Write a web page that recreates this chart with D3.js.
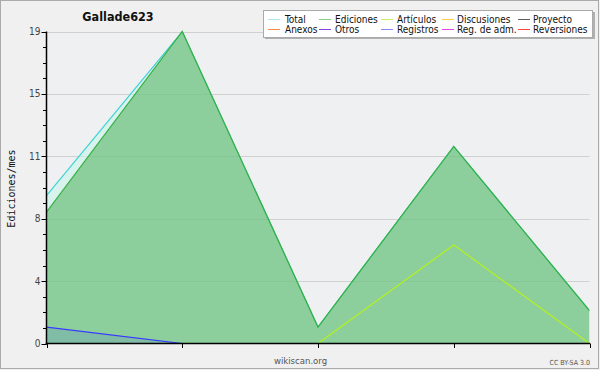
<!DOCTYPE html>
<html><head><meta charset="utf-8">
<script src="https://cdn.jsdelivr.net/npm/d3@7/dist/d3.min.js"></script>
<style>body{margin:0;background:#f0f0f0}svg{display:block}</style>
</head><body>
<svg id="c" width="600" height="370"></svg>
<script>
const months = ["M1","M2","M3","M4","M5"];
const total = [9, 19, 1, 12, 2];
const ediciones = [8, 19, 1, 12, 2];
const articulos = [0, 0, 0, 6, 0];
const registros = [1, 0, 0, 0, 0];
const yMajorTicks = [0, 3.8, 7.6, 11.4, 15.2, 19];
const yTickLabels = ["0", "4", "8", "11", "15", "19"];
const legendNames = ["Total","Ediciones","Artículos","Discusiones","Proyecto","Anexos","Otros","Registros","Reg. de adm.","Reversiones"];
const legendColors = ["#a8e8e8","#88cc88","#c8f060","#ffd040","#606060","#ff8844","#8844dd","#8888ff","#e044e0","#ff4444"];
const title = "Gallade623";
const yLabel = "Ediciones/mes";

const svg = d3.select("#c");
const L = 46.5, R = 589.5, T = 31.5, B = 343.5;
const x = d3.scalePoint().domain(months).range([L, R]);
const y = d3.scaleLinear().domain([0, 19]).range([B, T]);

// frame
svg.append("rect").attr("x",0.5).attr("y",0.5).attr("width",598).attr("height",368)
  .attr("fill","#f0f0f0").attr("stroke","#aaaaaa");
svg.append("rect").attr("x",L).attr("y",T).attr("width",R-L).attr("height",B-T).attr("fill","#eff0f2");

// grid
svg.append("g").selectAll("line").data(yMajorTicks.slice(1)).join("line")
  .attr("x1",L).attr("x2",R).attr("y1",d=>Math.round(y(d))+0.5).attr("y2",d=>Math.round(y(d))+0.5)
  .attr("stroke","#d0d0d0").attr("stroke-width",1);

svg.append("clipPath").attr("id","clip").append("rect").attr("x",L).attr("y",0).attr("width",R-L).attr("height",B);
const g = svg.append("g").attr("clip-path","url(#clip)");

function series(vals, lineColor, fill, fillOp, w){
  const data = vals.map((v,i)=>({m:months[i], v}));
  if (fill) g.append("path").datum(data)
    .attr("d", d3.area().x(d=>x(d.m)).y0(y(0)).y1(d=>y(d.v)))
    .attr("fill", fill).attr("fill-opacity", fillOp);
  g.append("path").datum(data)
    .attr("d", d3.line().x(d=>x(d.m)).y(d=>y(d.v)))
    .attr("fill","none").attr("stroke", lineColor).attr("stroke-width", w||1.2);
}
series(total, "#3fd4d4", "#c8f4ea", 0.6);
series(ediciones, "#38b044", "#3aa842", 0.47);
series(articulos, "#b4f020", null, 0);
series(registros, "#3838ff", "#2020ff", 0.1);

// axes
const axL = svg.append("g");
axL.append("line").attr("x1",L).attr("x2",L).attr("y1",T).attr("y2",B+1).attr("stroke","#000").attr("stroke-width",1.5);
const minor = d3.range(0, 20).map(i=>i*0.95).filter(v=>!yMajorTicks.some(t=>Math.abs(t-v)<1e-6));
axL.selectAll(".mn").data(minor).join("line")
  .attr("x1",L-3.5).attr("x2",L).attr("y1",d=>Math.round(y(d))+0.5).attr("y2",d=>Math.round(y(d))+0.5)
  .attr("stroke","#000");
axL.selectAll(".mj").data(yMajorTicks).join("line")
  .attr("x1",L-5).attr("x2",L).attr("y1",d=>Math.round(y(d))+0.5).attr("y2",d=>Math.round(y(d))+0.5)
  .attr("stroke","#000");
axL.selectAll("text").data(yMajorTicks).join("text")
  .attr("x",L-6).attr("y",d=>y(d)+3.5).attr("text-anchor","end")
  .attr("font-family","DejaVu Sans Condensed, DejaVu Sans").attr("font-stretch","condensed")
  .attr("font-size",10).attr("fill","#444").text((d,i)=>yTickLabels[i]);

const axB = svg.append("g");
axB.append("line").attr("x1",L-0.75).attr("x2",R+0.5).attr("y1",B).attr("y2",B).attr("stroke","#000").attr("stroke-width",1.5);
axB.selectAll("line.t").data(months).join("line").attr("class","t")
  .attr("x1",d=>Math.round(x(d))+0.5).attr("x2",d=>Math.round(x(d))+0.5).attr("y1",B).attr("y2",B+4.5)
  .attr("stroke","#000");

// title
svg.append("text").attr("x",118).attr("y",20.7).attr("text-anchor","middle")
  .attr("font-family","DejaVu Sans Condensed, DejaVu Sans").attr("font-stretch","condensed")
  .attr("font-weight","bold").attr("font-size",12.5).attr("fill","#111").text(title);

// y label
svg.append("text").attr("transform","translate(15,188.5) rotate(-90)").attr("text-anchor","middle")
  .attr("font-family","DejaVu Sans Mono").attr("font-size",10).attr("fill","#111").text(yLabel);

// legend
svg.append("rect").attr("x",265).attr("y",12).attr("width",330).attr("height",27).attr("fill","#b0b0b0");
svg.append("rect").attr("x",263.5).attr("y",10.5).attr("width",329).attr("height",27).attr("fill","#fff").attr("stroke","#aaaaaa");
const colX = [268, 319, 381, 442, 518];
const textX = [285, 335, 397, 457, 533];
const lg = svg.append("g").selectAll("g").data(legendNames).join("g");
lg.append("line")
  .attr("x1",(d,i)=>colX[i%5]).attr("x2",(d,i)=>colX[i%5]+12)
  .attr("y1",(d,i)=>i<5?19.5:29.5).attr("y2",(d,i)=>i<5?19.5:29.5)
  .attr("stroke",(d,i)=>legendColors[i]).attr("stroke-width",1);
lg.append("text").attr("x",(d,i)=>textX[i%5]).attr("y",(d,i)=>i<5?23.3:33.3)
  .attr("font-family","DejaVu Sans Condensed, DejaVu Sans").attr("font-stretch","condensed")
  .attr("font-size",10).attr("fill","#111").text(d=>d);

// footer
svg.append("text").attr("x",300.5).attr("y",364).attr("text-anchor","middle")
  .attr("font-family","DejaVu Sans Condensed, DejaVu Sans").attr("font-stretch","condensed")
  .attr("font-size",9.5).attr("fill","#555").text("wikiscan.org");
svg.append("text").attr("x",590).attr("y",365).attr("text-anchor","end")
  .attr("font-family","DejaVu Sans Condensed, DejaVu Sans").attr("font-stretch","condensed")
  .attr("font-size",7).attr("fill","#555").text("CC BY-SA 3.0");
</script>
</body></html>
